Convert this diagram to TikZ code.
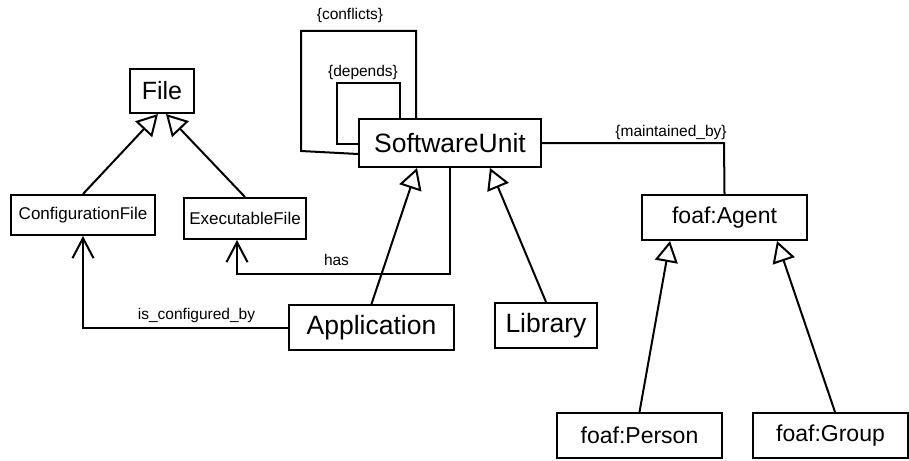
\documentclass[tikz,border=0pt]{standalone}
\usepackage{fontspec}
\setmainfont{Liberation Sans}
\usetikzlibrary{arrows.meta,calc}
\tikzset{
  cls/.style={draw, line width=2pt, inner sep=0pt, anchor=center},
  big/.style={font=\fontsize{26.5}{30}\selectfont},
  mid/.style={font=\fontsize{23}{27}\selectfont},
  sml/.style={font=\fontsize{17}{20}\selectfont},
  lbl/.style={font=\fontsize{15.5}{18}\selectfont, inner sep=0pt},
  conn/.style={line width=2pt},
  gen/.style={conn, -{Triangle[open, length=21pt, width=23pt]}},
  assoc/.style={conn, -{Straight Barb[length=20pt, width=21pt]}},
}
\begin{document}
\begin{tikzpicture}[x=1pt,y=-1pt]
\useasboundingbox (0,0) rectangle (909,460);
% classes
\node[cls, font=\fontsize{25}{29}\selectfont, minimum width=64pt, minimum height=44pt] (file) at (162,91) {File};
\node[cls, sml, minimum width=144pt, minimum height=40pt] (conf) at (83,215) {ConfigurationFile};
\node[cls, sml, minimum width=122pt, minimum height=41pt] (exec) at (245,218.5) {ExecutableFile};
\node[cls, big, minimum width=182pt, minimum height=48pt] (su) at (450,143) {SoftwareUnit};
\node[cls, big, minimum width=165pt, minimum height=45pt] (app) at (371.5,327.5) {Application};
\node[cls, big, minimum width=102pt, minimum height=45pt] (lib) at (546,325.5) {Library};
\node[cls, mid, minimum width=165pt, minimum height=45pt] (agent) at (724.5,217.5) {foaf:Agent};
\node[cls, mid, minimum width=165pt, minimum height=45pt] (person) at (639.5,435.5) {foaf:Person};
\node[cls, mid, minimum width=155pt, minimum height=45pt] (group) at (830.5,435.5) {foaf:Group};
% generalizations
\draw[gen] (conf.north) -- ($(file.south)+(-4,0)$);
\draw[gen] (exec.north) -- ($(file.south)+(4,0)$);
\draw[gen] (app.north) -- ($(su.south)+(-33,0)$);
\draw[gen] (lib.north) -- ($(su.south)+(40,0)$);
\draw[gen] (person.north) -- ($(agent.south)+(-54.5,0)$);
\draw[gen] ($(group.north)+(4.5,0)$) -- ($(agent.south)+(52.5,0)$);
% associations
\coordinate (hasA) at (450,274);
\coordinate (hasB) at (237,274);
\draw[assoc] (su.south) -- (hasA) -- (hasB) -- ($(exec.south)+(-8,0)$);
\node[lbl] (haslbl) at (336.5,260) {has};
\coordinate (cfgA) at (83,328);
\draw[assoc] ($(app.west)+(0,0.5)$) -- (cfgA) -- (conf.south);
\node[lbl] (cfglbl) at (196.5,315) {is\_configured\_by};
\coordinate (mntA) at (724,143);
\draw[conn] (su.east) -- (mntA) -- (agent.north);
\node[lbl] (mntlbl) at (671,132) {\{maintained\_by\}};
% self loops
\coordinate (cfA) at (416,31);
\coordinate (cfB) at (301,31);
\coordinate (cfC) at (301,151);
\draw[conn] ($(su.north)+(-34,0)$) -- (cfA) -- (cfB) -- (cfC) -- ($(su.west)+(0,11)$);
\node[lbl] (cflbl) at (350,15) {\{conflicts\}};
\coordinate (dpA) at (400,83);
\coordinate (dpB) at (337,83);
\coordinate (dpC) at (337,144);
\draw[conn] ($(su.north)+(-50,0)$) -- (dpA) -- (dpB) -- (dpC) -- ($(su.west)+(0,1)$);
\node[lbl] (dplbl) at (363,72) {\{depends\}};
\end{tikzpicture}
\end{document}
